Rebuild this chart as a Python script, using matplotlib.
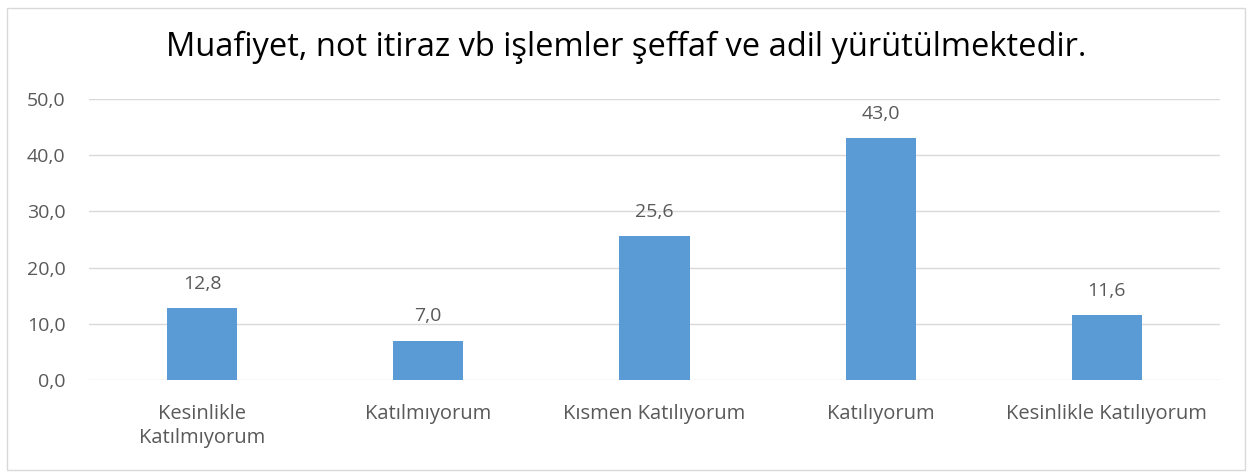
import matplotlib
matplotlib.use("Agg")
import matplotlib.pyplot as plt
from matplotlib.patches import Rectangle

categories = ["Kesinlikle\nKatılmıyorum", "Katılmıyorum", "Kısmen Katılıyorum", "Katılıyorum", "Kesinlikle Katılıyorum"]
values = [12.8, 7.0, 25.6, 43.0, 11.6]
yticks = [0, 10, 20, 30, 40, 50]
title = "Muafiyet, not itiraz vb işlemler şeffaf ve adil yürütülmektedir."

plt.rcParams['font.family'] = ['Open Sans', 'DejaVu Sans']
text_color = "#595959"

fig = plt.figure(figsize=(12.52, 4.75), dpi=100)
ax = fig.add_axes([89/1252, 1 - 380/475, (1220 - 89)/1252, (380 - 99)/475])

x = list(range(len(categories)))
ax.bar(x, values, width=0.31, color="#5B9BD5", zorder=3)
ax.set_xlim(-0.5, len(categories) - 0.5)
ax.set_ylim(0, 50)
ax.set_yticks(yticks)
ax.set_yticklabels([f"{v:.1f}".replace(".", ",") for v in yticks], fontsize=14, color=text_color)
ax.set_xticks(x)
ax.set_xticklabels(categories, fontsize=14.5, color=text_color, linespacing=1.3)
ax.tick_params(axis='both', length=0)
ax.tick_params(axis='x', pad=17)
ax.tick_params(axis='y', pad=17)
ax.grid(axis='y', color="#D9D9D9", linewidth=1.0, zorder=0)
for s in ax.spines.values():
    s.set_visible(False)

for xi, v in zip(x, values):
    ax.annotate(f"{v:.1f}".replace(".", ","), (xi, v), xytext=(0, 11), textcoords="offset points",
                ha="center", va="bottom", fontsize=14, color=text_color)

fig.text(0.5, 1 - 47/475, title, ha="center", va="center", fontsize=23.5, color="#000000")

fig.patches.append(Rectangle((7/1252, 1 - 470/475), (1245 - 7)/1252, (470 - 8)/475,
                             transform=fig.transFigure, fill=False, edgecolor="#D9D9D9", linewidth=1.0))

fig.savefig("out.png", dpi=100)
